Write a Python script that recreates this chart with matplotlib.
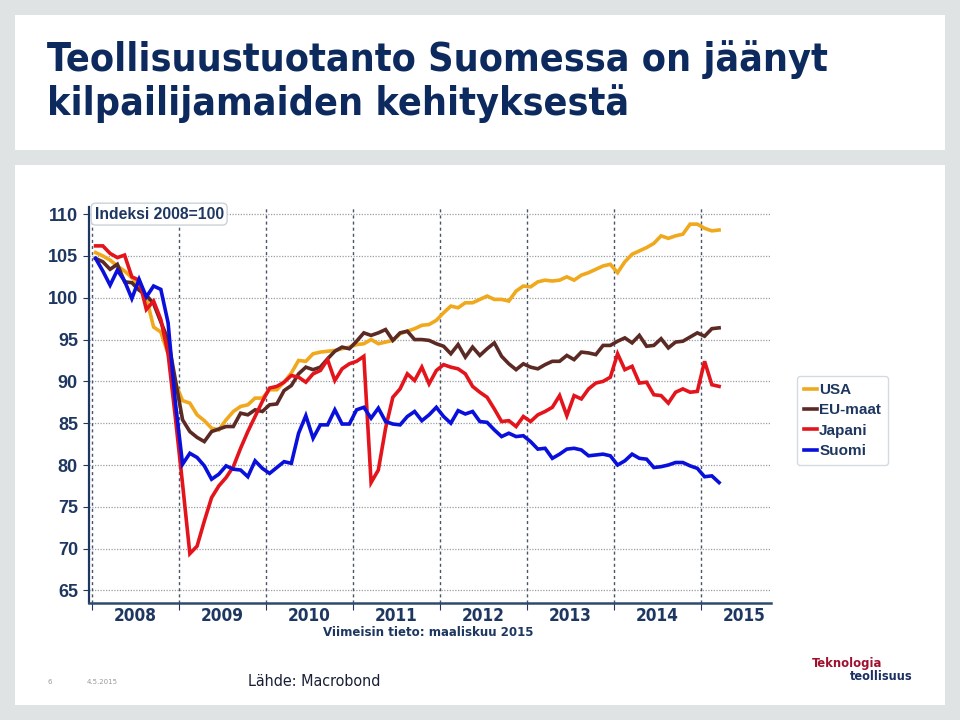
import matplotlib
matplotlib.use("Agg")
import matplotlib.pyplot as plt
from matplotlib.patches import Rectangle
from matplotlib.lines import Line2D
from matplotlib.font_manager import FontProperties
import numpy as np

# ---------------- data ----------------
start_year = 2008
series_names = ["USA", "EU-maat", "Japani", "Suomi"]
usa = [105.4, 105.0, 104.5, 103.8, 103.2, 102.4, 101.5, 100.0, 96.5, 95.9,
       93.3, 89.8, 87.7, 87.4, 86.0, 85.3, 84.4, 84.2, 85.4, 86.4,
       87.0, 87.2, 88.0, 88.0, 89.0, 89.0, 89.9, 91.0, 92.5, 92.4,
       93.3, 93.5, 93.6, 93.7, 93.9, 94.1, 94.4, 94.5, 95.0, 94.5,
       94.7, 94.9, 95.7, 96.0, 96.3, 96.7, 96.8, 97.3, 98.2, 99.0,
       98.8, 99.4, 99.4, 99.8, 100.2, 99.8, 99.8, 99.6, 100.8, 101.4,
       101.3, 101.9, 102.1, 102.0, 102.1, 102.5, 102.1, 102.7, 103.0, 103.4,
       103.8, 104.0, 103.0, 104.3, 105.2, 105.6, 106.0, 106.5, 107.4, 107.1,
       107.4, 107.6, 108.8, 108.8, 108.3, 108.0, 108.1]
eu = [104.7, 104.3, 103.4, 104.0, 101.9, 101.8, 100.9, 100.3, 99.3, 97.1,
      95.0, 90.2, 85.4, 84.0, 83.3, 82.8, 84.0, 84.3, 84.6, 84.6,
      86.2, 86.0, 86.6, 86.4, 87.2, 87.3, 88.9, 89.5, 90.9, 91.7,
      91.4, 91.7, 92.7, 93.6, 94.1, 93.9, 94.8, 95.8, 95.5, 95.8,
      96.2, 94.9, 95.8, 96.0, 95.0, 95.0, 94.9, 94.5, 94.2, 93.3,
      94.4, 92.9, 94.1, 93.1, 93.9, 94.6, 93.0, 92.1, 91.4, 92.1,
      91.7, 91.5, 92.0, 92.4, 92.4, 93.1, 92.6, 93.5, 93.4, 93.2,
      94.3, 94.3, 94.8, 95.2, 94.6, 95.5, 94.2, 94.3, 95.1, 94.0,
      94.7, 94.8, 95.3, 95.8, 95.4, 96.3, 96.4]
japani = [106.2, 106.2, 105.3, 104.8, 105.1, 102.5, 102.1, 98.6, 99.6, 97.4,
          93.3, 85.7, 77.7, 69.4, 70.3, 73.3, 76.1, 77.5, 78.5, 79.8,
          82.0, 84.0, 85.8, 87.6, 89.2, 89.4, 89.9, 90.7, 90.5, 89.9,
          90.9, 91.3, 92.6, 90.1, 91.5, 92.1, 92.4, 93.0, 77.9, 79.4,
          84.4, 88.1, 89.1, 90.9, 90.1, 91.7, 89.7, 91.3, 92.0, 91.7,
          91.5, 90.9, 89.4, 88.7, 88.1, 86.7, 85.2, 85.3, 84.6, 85.8,
          85.2, 86.0, 86.4, 86.9, 88.3, 85.9, 88.3, 87.9, 89.1, 89.8,
          90.0, 90.5, 93.3, 91.4, 91.8, 89.8, 89.9, 88.4, 88.3, 87.4,
          88.7, 89.1, 88.7, 88.8, 92.4, 89.6, 89.4]
suomi = [104.7, 103.2, 101.5, 103.3, 102.0, 99.9, 102.2, 100.1, 101.4, 101.0,
         97.0, 87.5, 80.1, 81.4, 80.9, 79.9, 78.3, 78.9, 79.9, 79.5,
         79.4, 78.6, 80.5, 79.6, 79.0, 79.7, 80.4, 80.2, 83.8, 85.9,
         83.2, 84.8, 84.8, 86.6, 84.9, 84.9, 86.6, 86.9, 85.6, 86.8,
         85.2, 84.9, 84.8, 85.8, 86.4, 85.3, 86.0, 86.9, 85.8, 85.0,
         86.5, 86.1, 86.4, 85.2, 85.1, 84.2, 83.4, 83.8, 83.4, 83.5,
         82.8, 81.9, 82.0, 80.8, 81.3, 81.9, 82.0, 81.8, 81.1, 81.2,
         81.3, 81.1, 80.0, 80.5, 81.3, 80.8, 80.7, 79.7, 79.8, 80.0,
         80.3, 80.3, 79.9, 79.6, 78.6, 78.7, 77.9]
year_labels = ["2008", "2009", "2010", "2011", "2012", "2013", "2014", "2015"]
y_ticks = [65, 70, 75, 80, 85, 90, 95, 100, 105, 110]

colors = ["#F0A81C", "#5C2A24", "#E4141C", "#0A10DC"]
navy = "#1E3760"

W, H = 960, 720
fig = plt.figure(figsize=(9.6, 7.2), dpi=100)
fig.patch.set_facecolor("#DFE3E3")


def fx(px):
    return px / W


def fy(py):
    return 1 - py / H


# white panels (behind the axes)
fig.patches.append(Rectangle((fx(15), fy(150)), fx(930), 135 / H, transform=fig.transFigure,
                             facecolor="white", edgecolor="none", zorder=-5))
fig.patches.append(Rectangle((fx(15), fy(705)), fx(930), 540 / H, transform=fig.transFigure,
                             facecolor="white", edgecolor="none", zorder=-5))

COND_B = FontProperties(family="DejaVu Sans", stretch="condensed", weight="bold")
COND_R = FontProperties(family="DejaVu Sans", stretch="condensed", weight="normal")
SANS_B = FontProperties(family=["Liberation Sans", "DejaVu Sans"], weight="bold")

renderer = fig.canvas.get_renderer()


def fit(t, target_w):
    fs = t.get_fontsize()
    w = t.get_window_extent(renderer=renderer).width
    t.set_fontsize(fs * target_w / w)
    return t.get_fontsize()


# title
t1 = fig.text(fx(47), fy(60), "Teollisuustuotanto Suomessa on jäänyt", fontproperties=COND_B,
              color="#0D2A5E", va="center", ha="left")
t1.set_fontsize(30)
fs = fit(t1, 781)
t2 = fig.text(fx(47), fy(104), "kilpailijamaiden kehityksestä", fontproperties=COND_B,
              color="#0D2A5E", va="center", ha="left")
t2.set_fontsize(fs)

# axes
ax = fig.add_axes([fx(89), fy(603), fx(771 - 89), (603 - 207) / H])
ax.set_facecolor("none")
xs = start_year + (np.arange(len(usa)) + 0.5) / 12.0
for vals, c, name in zip([usa, eu, japani, suomi], colors, series_names):
    ax.plot(xs, vals, color=c, lw=2.6, solid_joinstyle="miter", label=name, zorder=3)

ax.set_xlim(2007.966, 2015.805)
ax.set_ylim(63.5, 110.85)
ax.set_yticks(y_ticks)
ax.set_yticklabels([str(v) for v in y_ticks])
for lab in ax.get_yticklabels():
    lab.set_fontproperties(SANS_B)
    lab.set_fontsize(13)
    lab.set_color(navy)
years = np.arange(2008, 2016)
ax.set_xticks(years)
ax.set_xticklabels([])
ax.set_xticks(years + 0.5, minor=True)
ax.set_xticklabels(year_labels, minor=True)
for lab in ax.get_xticklabels(minor=True):
    lab.set_fontproperties(COND_B)
    lab.set_fontsize(12.3)
    lab.set_color(navy)
ax.tick_params(axis="x", which="minor", length=0, pad=3)
ax.tick_params(axis="x", which="major", length=5, color=navy, direction="out")
ax.tick_params(axis="y", length=4, color=navy, pad=4)

for y in y_ticks:
    ax.axhline(y, color="#9A9EA4", lw=0.9, ls=(0, (1, 1.2)), zorder=1)
for x in years:
    ax.axvline(x, color="#4A5668", lw=1.0, ls=(0, (2.2, 2.2)), zorder=1)

for s in ["top", "right"]:
    ax.spines[s].set_visible(False)
ax.spines["left"].set_color(navy)
ax.spines["left"].set_linewidth(1.6)
ax.spines["bottom"].set_color("#2E4A6E")
ax.spines["bottom"].set_linewidth(1.8)

# index label box
ax.text(2008.03, 110, "Indeksi 2008=100", fontproperties=SANS_B, fontsize=11.3,
        color=navy, va="center", ha="left", zorder=5,
        bbox=dict(boxstyle="round,pad=0.22,rounding_size=0.3", facecolor="white",
                  edgecolor="#C9D3DA", lw=1.0))

# legend
handles = [Line2D([0], [0], color=c, lw=2.6) for c in colors]
leg = fig.legend(handles, series_names, loc="upper left",
                 bbox_to_anchor=(fx(797), fy(376)), frameon=True, fancybox=True,
                 handlelength=0.85, handletextpad=0.15, labelspacing=0.42,
                 borderpad=0.45, borderaxespad=0,
                 prop=dict(family=["Liberation Sans", "DejaVu Sans"], weight="bold", size=11))
leg.get_frame().set_edgecolor("#C9D3DA")
leg.get_frame().set_linewidth(1.0)
for t in leg.get_texts():
    t.set_color(navy)

tv = fig.text(fx(428), fy(632), "Viimeisin tieto: maaliskuu 2015", fontproperties=COND_B,
              color=navy, ha="center", va="center")
tv.set_fontsize(12)
fit(tv, 210)

# footer
fig.text(fx(47), fy(682), "6", family="DejaVu Sans", fontsize=5, color="#9A9A9A",
         ha="left", va="center")
fig.text(fx(87), fy(682), "4.5.2015", family="DejaVu Sans", fontsize=5, color="#9A9A9A",
         ha="left", va="center")
tl = fig.text(fx(248), fy(682), "Lähde: Macrobond", fontproperties=COND_R,
              color="#1A1F36", ha="left", va="center")
tl.set_fontsize(13)
fit(tl, 133)
tk = fig.text(fx(812), fy(663), "Teknologia", fontproperties=COND_B,
              color="#A0102E", ha="left", va="center")
tk.set_fontsize(11)
fit(tk, 70)
tt = fig.text(fx(912), fy(677), "teollisuus", fontproperties=COND_B,
              color="#1A2F62", ha="right", va="center")
tt.set_fontsize(11)
fit(tt, 62)

fig.savefig("out.png", dpi=100, facecolor=fig.get_facecolor())
